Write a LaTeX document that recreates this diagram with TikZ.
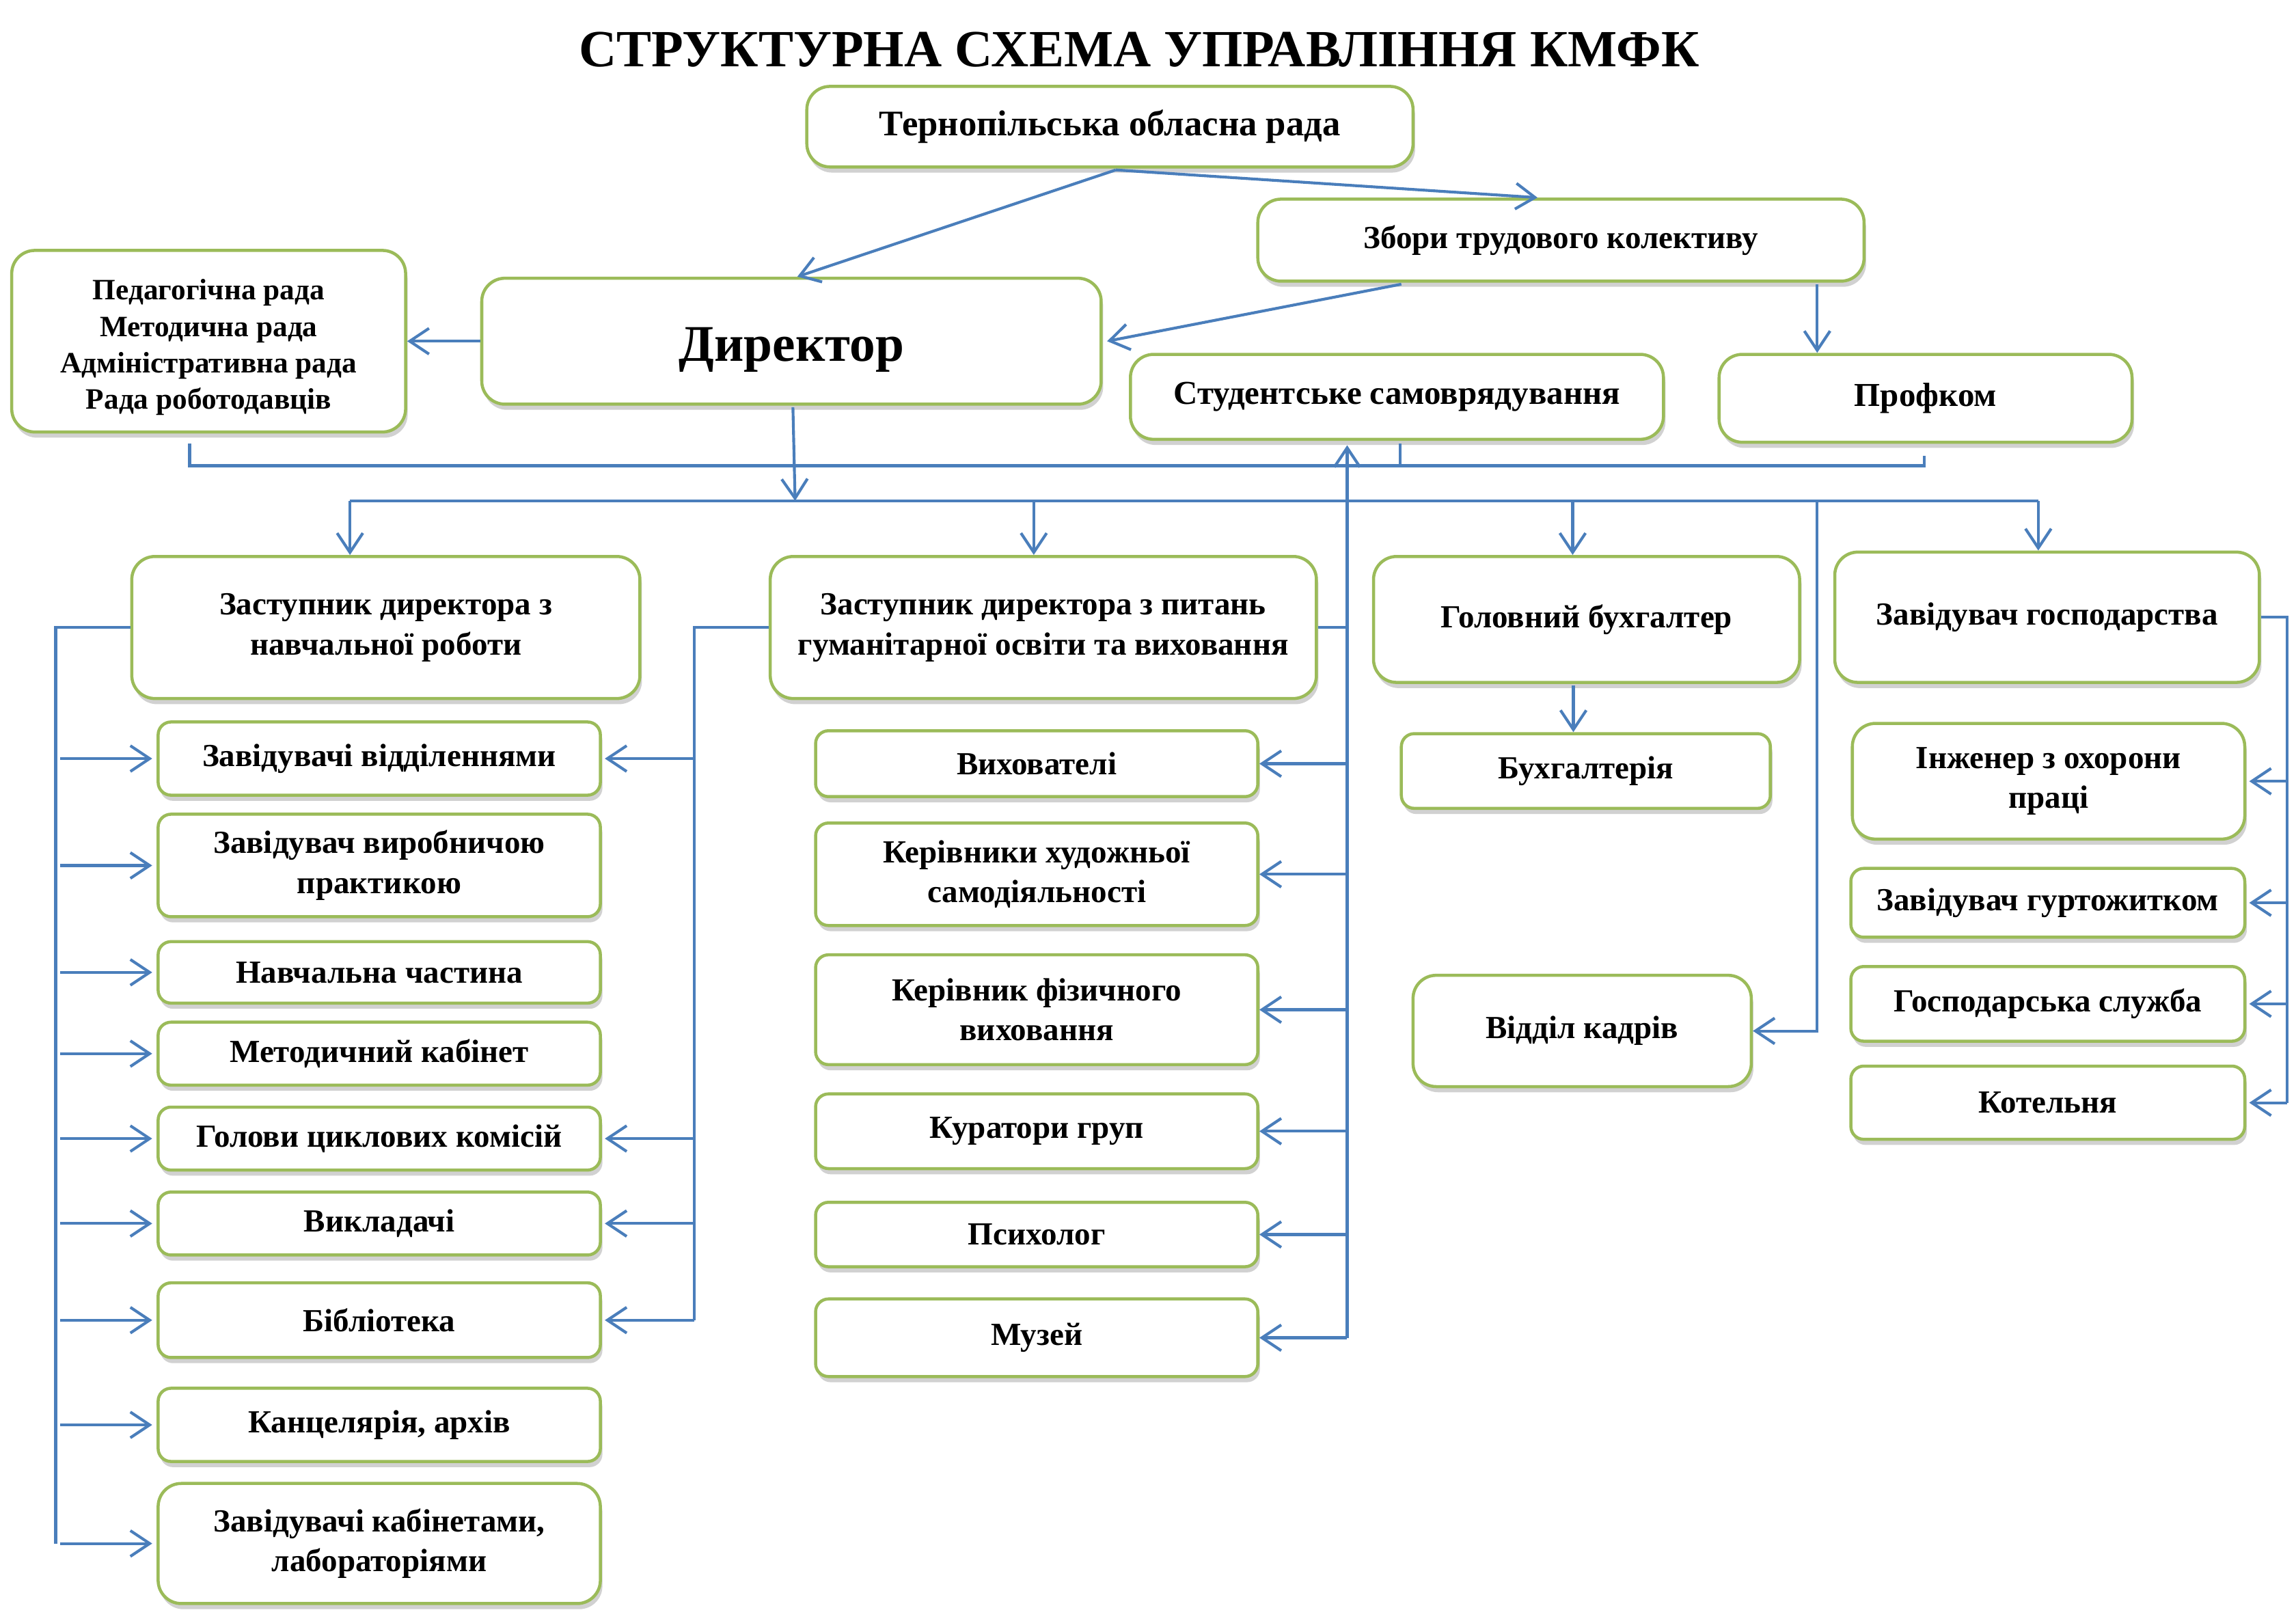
\documentclass[tikz,border=0pt]{standalone}
\usepackage{fontspec}
\setmainfont{Liberation Serif}
\usetikzlibrary{arrows.meta,shadows,calc}
\definecolor{lb}{HTML}{4A7EBB}
\definecolor{gb}{HTML}{9BBB59}
\tikzset{
 boxst/.style={draw=gb, line width=1.2pt, fill=white, rounded corners=5pt, inner sep=0pt, align=center,
   font=\bfseries\fontsize{12.5}{15.6}\selectfont,
   drop shadow={shadow xshift=0.8pt,shadow yshift=-2.2pt,opacity=0.3,fill=black!60}},
 bigbox/.style={rounded corners=9pt},
 ln/.style={draw=lb, line width=1.1pt},
 arr/.style={ln, -{Straight Barb[length=7.5pt,width=10pt]}},
}
\newcommand\mybox[7][]{%
  \pgfmathsetmacro\bw{(#5-#3)*0.02}%
  \pgfmathsetmacro\bh{(#6-#4)*0.02}%
  \node[boxst,minimum width=\bw cm,minimum height=\bh cm,#1] (#2) at ({(#3+#5)/2},{(#4+#6)/2}) {#7};}
\begin{document}
\begin{tikzpicture}[x=0.02cm,y=-0.02cm]
\useasboundingbox (0,0) rectangle (1568,1106.5);
\node[font=\bfseries\fontsize{20.3}{24}\selectfont] (title) at (778,34) {СТРУКТУРНА СХЕМА УПРАВЛІННЯ КМФК};
% top
\mybox[bigbox,font=\bfseries\fontsize{14}{17}\selectfont]{terno}{551}{59}{965}{114}{Тернопільська обласна рада}
\mybox[bigbox]{zbory}{859}{136}{1273}{192}{Збори трудового колективу}
\mybox[bigbox,font=\bfseries\fontsize{11.5}{14.2}\selectfont]{pedrada}{8}{171}{277}{295}{\rule{0pt}{12.8pt}Педагогічна рада\\Методична рада\\Адміністративна рада\\Рада роботодавців}
\mybox[bigbox,font=\bfseries\fontsize{20}{24}\selectfont,text height=20pt]{director}{329}{190}{752}{276}{Директор}
\mybox[bigbox,font=\bfseries\fontsize{13}{16}\selectfont]{stud}{772}{242}{1136}{300}{Студентське самоврядування}
\mybox[bigbox,font=\bfseries\fontsize{13}{16}\selectfont]{profkom}{1174}{242}{1456}{302}{Профком}
% row 2
\mybox[bigbox]{zast1}{90}{380}{437}{477}{Заступник директора з\\навчальної роботи}
\mybox[bigbox]{zast2}{526}{380}{899}{477}{Заступник директора з питань\\гуманітарної освіти та виховання}
\mybox[bigbox]{golbuh}{938}{380}{1229}{466}{Головний бухгалтер}
\mybox[bigbox]{zavgosp}{1253}{377}{1543}{466}{Завідувач господарства}
% left column
\mybox{zv}{108}{493}{410}{543}{Завідувачі відділеннями}
\mybox{zvp}{108}{556}{410}{626}{Завідувач виробничою\\практикою}
\mybox{nch}{108}{643}{410}{685}{Навчальна частина}
\mybox{mk}{108}{698}{410}{741}{Методичний кабінет}
\mybox{gck}{108}{756}{410}{799}{Голови циклових комісій}
\mybox{vykl}{108}{814}{410}{857}{Викладачі}
\mybox{bibl}{108}{876}{410}{927}{Бібліотека}
\mybox{kanc}{108}{948}{410}{998}{Канцелярія, архів}
\mybox[bigbox]{zkab}{108}{1013}{410}{1095}{Завідувачі кабінетами,\\лабораторіями}
% middle column
\mybox{vyh}{557}{499}{859}{544}{Вихователі}
\mybox{khs}{557}{562}{859}{632}{Керівники художньої\\самодіяльності}
\mybox{kfv}{557}{652}{859}{727}{Керівник фізичного\\виховання}
\mybox{kur}{557}{747}{859}{798}{Куратори груп}
\mybox{psy}{557}{821}{859}{865}{Психолог}
\mybox{muz}{557}{887}{859}{940}{Музей}
% right columns
\mybox{buh}{957}{501}{1209}{552}{Бухгалтерія}
\mybox[bigbox]{kadry}{965}{666}{1196}{742}{Відділ кадрів}
\mybox[bigbox]{inzh}{1265}{494}{1533}{573}{Інженер з охорони\\праці}
\mybox{gurt}{1264}{593}{1533}{640}{Завідувач гуртожитком}
\mybox{gsl}{1264}{660}{1533}{711}{Господарська служба}
\mybox{kot}{1264}{728}{1533}{778}{Котельня}
% ---- connectors ----
\coordinate (t0) at ($(terno.south)+(4,1)$);
\draw[arr] (t0) -- ($(director.north)+(4,0)$);
\draw[arr] (t0) -- ($(zbory.north)+(-16,0)$);
\draw[arr] ($(zbory.south)+(-109,1)$) -- ($(director.east)+(3,0)$);
\coordinate (zp) at ($(zbory.south)+(175,1)$);
\draw[arr] (zp) -- (zp |- profkom.north);
\draw[arr] (director.west) -- (pedrada.east);
% feedback line
\coordinate (fb) at (0,318);
\coordinate (p1) at ($(pedrada.south)+(-13,7)$);
\coordinate (p2) at ($(profkom.south)+(-1,8)$);
\coordinate (p3) at ($(stud.south)+(2,2)$);
\draw[ln] (p1) -- (p1 |- fb) -- (p2 |- fb) -- (p2);
\draw[ln] (p3) -- (p3 |- fb);
% distribution
\coordinate (dist) at (543,342);
\coordinate (d1) at (239,342);
\coordinate (d2) at (706,342);
\coordinate (d3) at (1074,342);
\coordinate (d4) at (1392,342);
\draw[arr] ($(director.south)+(1,1)$) -- (dist);
\draw[ln] (d1) -- (d4);
\draw[arr] (d1) -- (d1 |- zast1.north);
\draw[arr] (d2) -- (d2 |- zast2.north);
\draw[arr] (d3) -- (d3 |- golbuh.north);
\draw[arr] (d4) -- (d4 |- zavgosp.north);
\coordinate (ksp) at (1241,342);
\draw[arr] (ksp) -- (ksp |- kadry.east) -- (kadry.east);
\coordinate (gb1) at ($(golbuh.south)+(-9,1)$);
\draw[arr] (gb1) -- (gb1 |- buh.north);
% middle spine
\coordinate (m) at (920,0);
\draw[arr] (m |- muz.east) -- ($(m |- stud.south)+(0,3)$);
\draw[ln] (zast2.east) -- (zast2.east -| m);
\foreach \b in {vyh,khs,kfv,kur,psy,muz}{\draw[arr] (m |- \b.east) -- (\b.east);}
% left spine
\coordinate (lsp) at (38,0);
\draw[ln] (zast1.west) -- (zast1.west -| lsp) -- (lsp |- zkab.west);
\foreach \b in {zv,zvp,nch,mk,gck,vykl,bibl,kanc,zkab}{\draw[arr] ($(lsp |- \b.west)+(3,0)$) -- ($(\b.west)+(-3,0)$);}
% right spine of left column
\coordinate (rsp) at (474,0);
\draw[ln] (zast2.west) -- (zast2.west -| rsp) -- (rsp |- bibl.east);
\foreach \b in {zv,gck,vykl,bibl}{\draw[arr] (rsp |- \b.east) -- ($(\b.east)+(2,0)$);}
% zavgosp spine
\coordinate (gsp) at (1562,0);
\draw[ln] (zavgosp.east) -- (zavgosp.east -| gsp) -- (gsp |- kot.east);
\foreach \b in {inzh,gurt,gsl,kot}{\draw[arr] (gsp |- \b.east) -- ($(\b.east)+(2,0)$);}
\end{tikzpicture}
\end{document}
